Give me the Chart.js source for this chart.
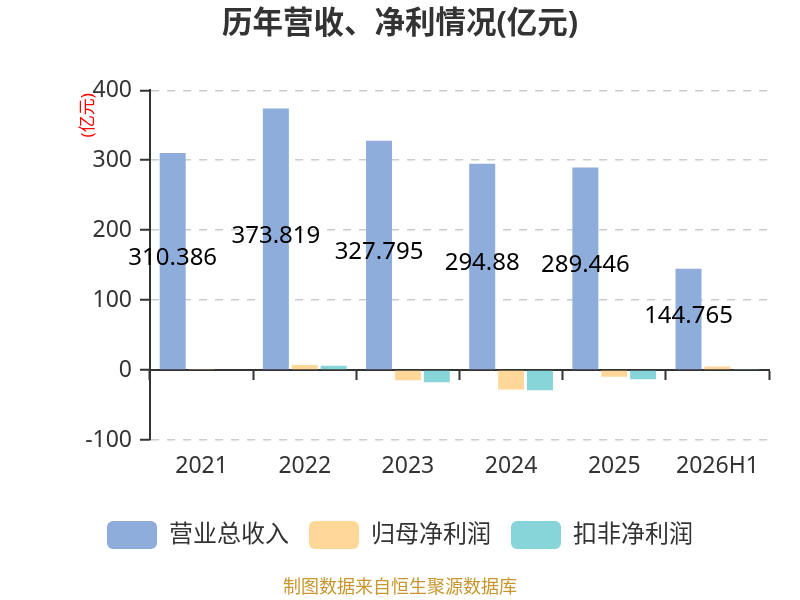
<!DOCTYPE html>
<html>
<head>
<meta charset="utf-8">
<script src="https://cdn.jsdelivr.net/npm/chart.js@4"></script>
<style>
html,body{margin:0;padding:0;background:#fff;}
#wrap{width:800px;height:600px;}
</style>
</head>
<body>
<div id="wrap"><canvas id="c" width="800" height="600"></canvas></div>
<script>
const categories = ['2021', '2022', '2023', '2024', '2025', '2026H1'];
const revenue = [310.386, 373.819, 327.795, 294.88, 289.446, 144.765];
const netProfit = [1.6, 7.1, -14.7, -27.9, -9.5, 5.2];
const deductedProfit = [1.2, 6.2, -17.6, -28.9, -13.0, 1.6];
const seriesNames = ['营业总收入', '归母净利润', '扣非净利润'];
const yMin = -100, yMax = 400, yStep = 100;

const FONT = '"Noto Sans", "Noto Sans CJK SC", sans-serif';

const valueLabels = {
  id: 'valueLabels',
  afterDatasetsDraw(chart) {
    const ctx = chart.ctx;
    const meta = chart.getDatasetMeta(0);
    ctx.save();
    ctx.font = '24px ' + FONT;
    ctx.fillStyle = '#000';
    ctx.textAlign = 'center';
    ctx.textBaseline = 'middle';
    meta.data.forEach((el, i) => {
      const v = chart.data.datasets[0].data[i];
      ctx.fillText(String(v), el.x, (el.y + el.base) / 2 - 3);
    });
    ctx.restore();
  }
};

const unitLabel = {
  id: 'unitLabel',
  afterDraw(chart) {
    const ctx = chart.ctx;
    const ca = chart.chartArea;
    ctx.save();
    ctx.font = '17px ' + FONT;
    ctx.fillStyle = '#ff0000';
    ctx.textAlign = 'center';
    ctx.textBaseline = 'middle';
    ctx.translate(ca.left - 62, ca.top + 25);
    ctx.rotate(-Math.PI / 2);
    ctx.fillText('(亿元)', 0, 0);
    ctx.restore();
  }
};

new Chart(document.getElementById('c'), {
  type: 'bar',
  data: {
    labels: categories,
    datasets: [
      { label: seriesNames[0], data: revenue, backgroundColor: '#8eaddb' },
      { label: seriesNames[1], data: netProfit, backgroundColor: '#ffd899' },
      { label: seriesNames[2], data: deductedProfit, backgroundColor: '#87d5d8' }
    ]
  },
  options: {
    responsive: false,
    animation: false,
    devicePixelRatio: 1,
    categoryPercentage: 0.84,
    barPercentage: 0.9,
    layout: { padding: { left: 0, right: 0, top: 0, bottom: 0 } },
    plugins: {
      title: {
        display: true,
        text: '历年营收、净利情况(亿元)',
        color: '#333',
        font: { family: FONT, size: 30.5, weight: 'bold', lineHeight: 1.2 },
        padding: { top: 5.7, bottom: 48 }
      },
      subtitle: {
        display: true,
        position: 'bottom',
        text: '制图数据来自恒生聚源数据库',
        color: '#c8962e',
        font: { family: FONT, size: 18, lineHeight: 1.2 },
        padding: { top: 18, bottom: 1.4 }
      },
      legend: {
        position: 'bottom',
        labels: {
          boxWidth: 50,
          boxHeight: 28,
          useBorderRadius: true,
          borderRadius: 6,
          padding: 20,
          color: '#333',
          font: { family: FONT, size: 24 }
        }
      },
      tooltip: { enabled: false }
    },
    scales: {
      x: {
        type: 'category',
        offset: true,
        grid: { display: false, drawTicks: false },
        border: { display: false },
        ticks: { color: '#333', padding: 13, font: { family: FONT, size: 23 } },
        afterFit(s) { s.height = 61; }
      },
      x2: {
        type: 'category',
        labels: categories,
        position: { y: 0 },
        offset: true,
        z: 1,
        grid: { display: true, offset: true, drawOnChartArea: false, drawTicks: true, tickLength: 9, tickColor: '#333', tickWidth: 2 },
        border: { display: true, color: '#333', width: 2 },
        ticks: { display: false }
      },
      y: {
        min: yMin,
        max: yMax,
        ticks: { stepSize: yStep, color: '#333', padding: 8, font: { family: FONT, size: 23 } },
        grid: { color: '#cccccc', lineWidth: 1.5, drawTicks: true, tickLength: 10, tickColor: '#333', tickWidth: 2, tickBorderDash: [] },
        border: { display: true, color: '#333', width: 2, dash: [8, 8] },
        afterFit(s) { s.width = 150; }
      },
      yR: {
        position: 'right',
        min: yMin,
        max: yMax,
        grid: { display: false, drawTicks: false },
        border: { display: false },
        ticks: { display: false },
        afterFit(s) { s.width = 31; }
      }
    }
  },
  plugins: [valueLabels, unitLabel]
});
</script>
</body>
</html>
